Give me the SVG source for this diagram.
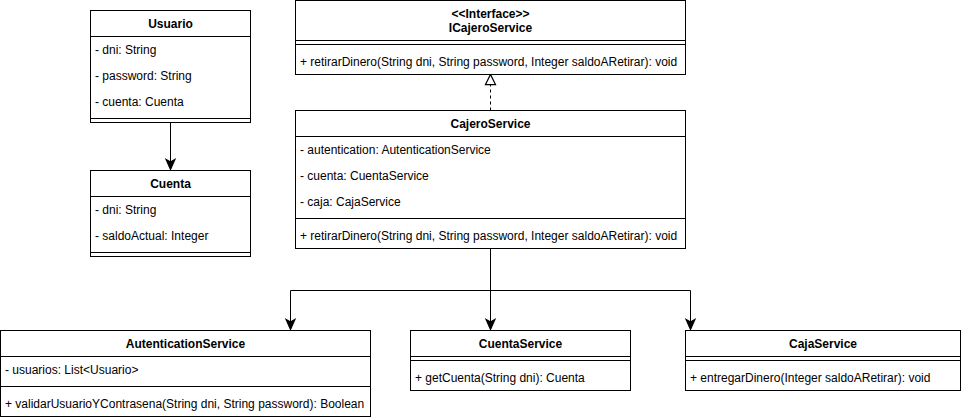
<svg xmlns="http://www.w3.org/2000/svg" width="961" height="420" viewBox="0 0 961 420">
<style>
.box{fill:#ffffff;stroke:#000000;stroke-width:1}
.ln{stroke:#000000;stroke-width:1;fill:none}
text{font-family:"Liberation Sans",Arial,Helvetica,sans-serif;font-size:12px;fill:#000000}
.h{font-weight:bold;text-anchor:middle}
.edge{stroke:#000000;stroke-width:1;fill:none}
.dash{stroke-dasharray:3 3}
</style>
<defs>
<marker id="arrow" markerUnits="userSpaceOnUse" markerWidth="10" markerHeight="10" viewBox="0 0 8 8" refX="8" refY="4" orient="auto" overflow="visible">
<path d="M0,0.5 L8,4 L0,7.5 L2,4 Z" fill="#000000" stroke="#000000" stroke-width="1"/>
</marker>
<marker id="realize" markerUnits="userSpaceOnUse" markerWidth="10" markerHeight="10" viewBox="0 0 8 8" refX="8" refY="4" orient="auto" overflow="visible">
<path d="M0,0 L8,4 L0,8 Z" fill="#ffffff" stroke="#000000" stroke-width="1"/>
</marker>
</defs>
<rect width="961" height="420" fill="#ffffff"/>

<g id="connectors">
<path class="edge" d="M170.5,122.5 L170.5,169.5" marker-end="url(#arrow)"/>
<path class="edge dash" d="M490.5,110.5 L490.5,74.5" marker-end="url(#realize)"/>
<path class="edge" d="M490.5,248.5 L490.5,290.5 L290.5,290.5 L290.5,329.5" marker-end="url(#arrow)"/>
<path class="edge" d="M490.5,248.5 L490.5,329.5" marker-end="url(#arrow)"/>
<path class="edge" d="M490.5,290.5 L690.5,290.5 L690.5,329.5" marker-end="url(#arrow)"/>
</g>

<g id="Usuario">
<rect class="box" x="90.5" y="10.5" width="160" height="112"/>
<line class="ln" x1="90.5" y1="36.5" x2="250.5" y2="36.5"/>
<line class="ln" x1="90.5" y1="118.5" x2="250.5" y2="118.5"/>
<text class="h" x="170.5" y="27.5">Usuario</text>
<text x="95" y="54">- dni: String</text>
<text x="95" y="80">- password: String</text>
<text x="95" y="106">- cuenta: Cuenta</text>
</g>

<g id="Cuenta">
<rect class="box" x="90.5" y="170.5" width="160" height="86"/>
<line class="ln" x1="90.5" y1="196.5" x2="250.5" y2="196.5"/>
<line class="ln" x1="90.5" y1="252.5" x2="250.5" y2="252.5"/>
<text class="h" x="170.5" y="187.5">Cuenta</text>
<text x="95" y="214">- dni: String</text>
<text x="95" y="240">- saldoActual: Integer</text>
</g>

<g id="ICajeroService">
<rect class="box" x="295.5" y="0.5" width="390" height="74"/>
<line class="ln" x1="295.5" y1="40.5" x2="685.5" y2="40.5"/>
<line class="ln" x1="295.5" y1="44.5" x2="685.5" y2="44.5"/>
<text class="h" x="490.5" y="18">&lt;&lt;Interface&gt;&gt;</text>
<text class="h" x="490.5" y="32">ICajeroService</text>
<text x="300" y="66">+ retirarDinero(String dni, String password, Integer saldoARetirar): void</text>
</g>

<g id="CajeroService">
<rect class="box" x="295.5" y="110.5" width="390" height="138"/>
<line class="ln" x1="295.5" y1="136.5" x2="685.5" y2="136.5"/>
<line class="ln" x1="295.5" y1="218.5" x2="685.5" y2="218.5"/>
<text class="h" x="490.5" y="127.5">CajeroService</text>
<text x="300" y="154">- autentication: AutenticationService</text>
<text x="300" y="180">- cuenta: CuentaService</text>
<text x="300" y="206">- caja: CajaService</text>
<text x="300" y="240">+ retirarDinero(String dni, String password, Integer saldoARetirar): void</text>
</g>

<g id="AutenticationService">
<rect class="box" x="0.5" y="330.5" width="370" height="86"/>
<line class="ln" x1="0.5" y1="356.5" x2="370.5" y2="356.5"/>
<line class="ln" x1="0.5" y1="386.5" x2="370.5" y2="386.5"/>
<text class="h" x="185.5" y="347.5">AutenticationService</text>
<text x="5" y="374">- usuarios: List&lt;Usuario&gt;</text>
<text x="5" y="408">+ validarUsuarioYContrasena(String dni, String password): Boolean</text>
</g>

<g id="CuentaService">
<rect class="box" x="410.5" y="330.5" width="220" height="60"/>
<line class="ln" x1="410.5" y1="356.5" x2="630.5" y2="356.5"/>
<line class="ln" x1="410.5" y1="360.5" x2="630.5" y2="360.5"/>
<text class="h" x="520.5" y="347.5">CuentaService</text>
<text x="415" y="382">+ getCuenta(String dni): Cuenta</text>
</g>

<g id="CajaService">
<rect class="box" x="685.5" y="330.5" width="275" height="60"/>
<line class="ln" x1="685.5" y1="356.5" x2="960.5" y2="356.5"/>
<line class="ln" x1="685.5" y1="360.5" x2="960.5" y2="360.5"/>
<text class="h" x="823" y="347.5">CajaService</text>
<text x="690" y="382">+ entregarDinero(Integer saldoARetirar): void</text>
</g>
</svg>
